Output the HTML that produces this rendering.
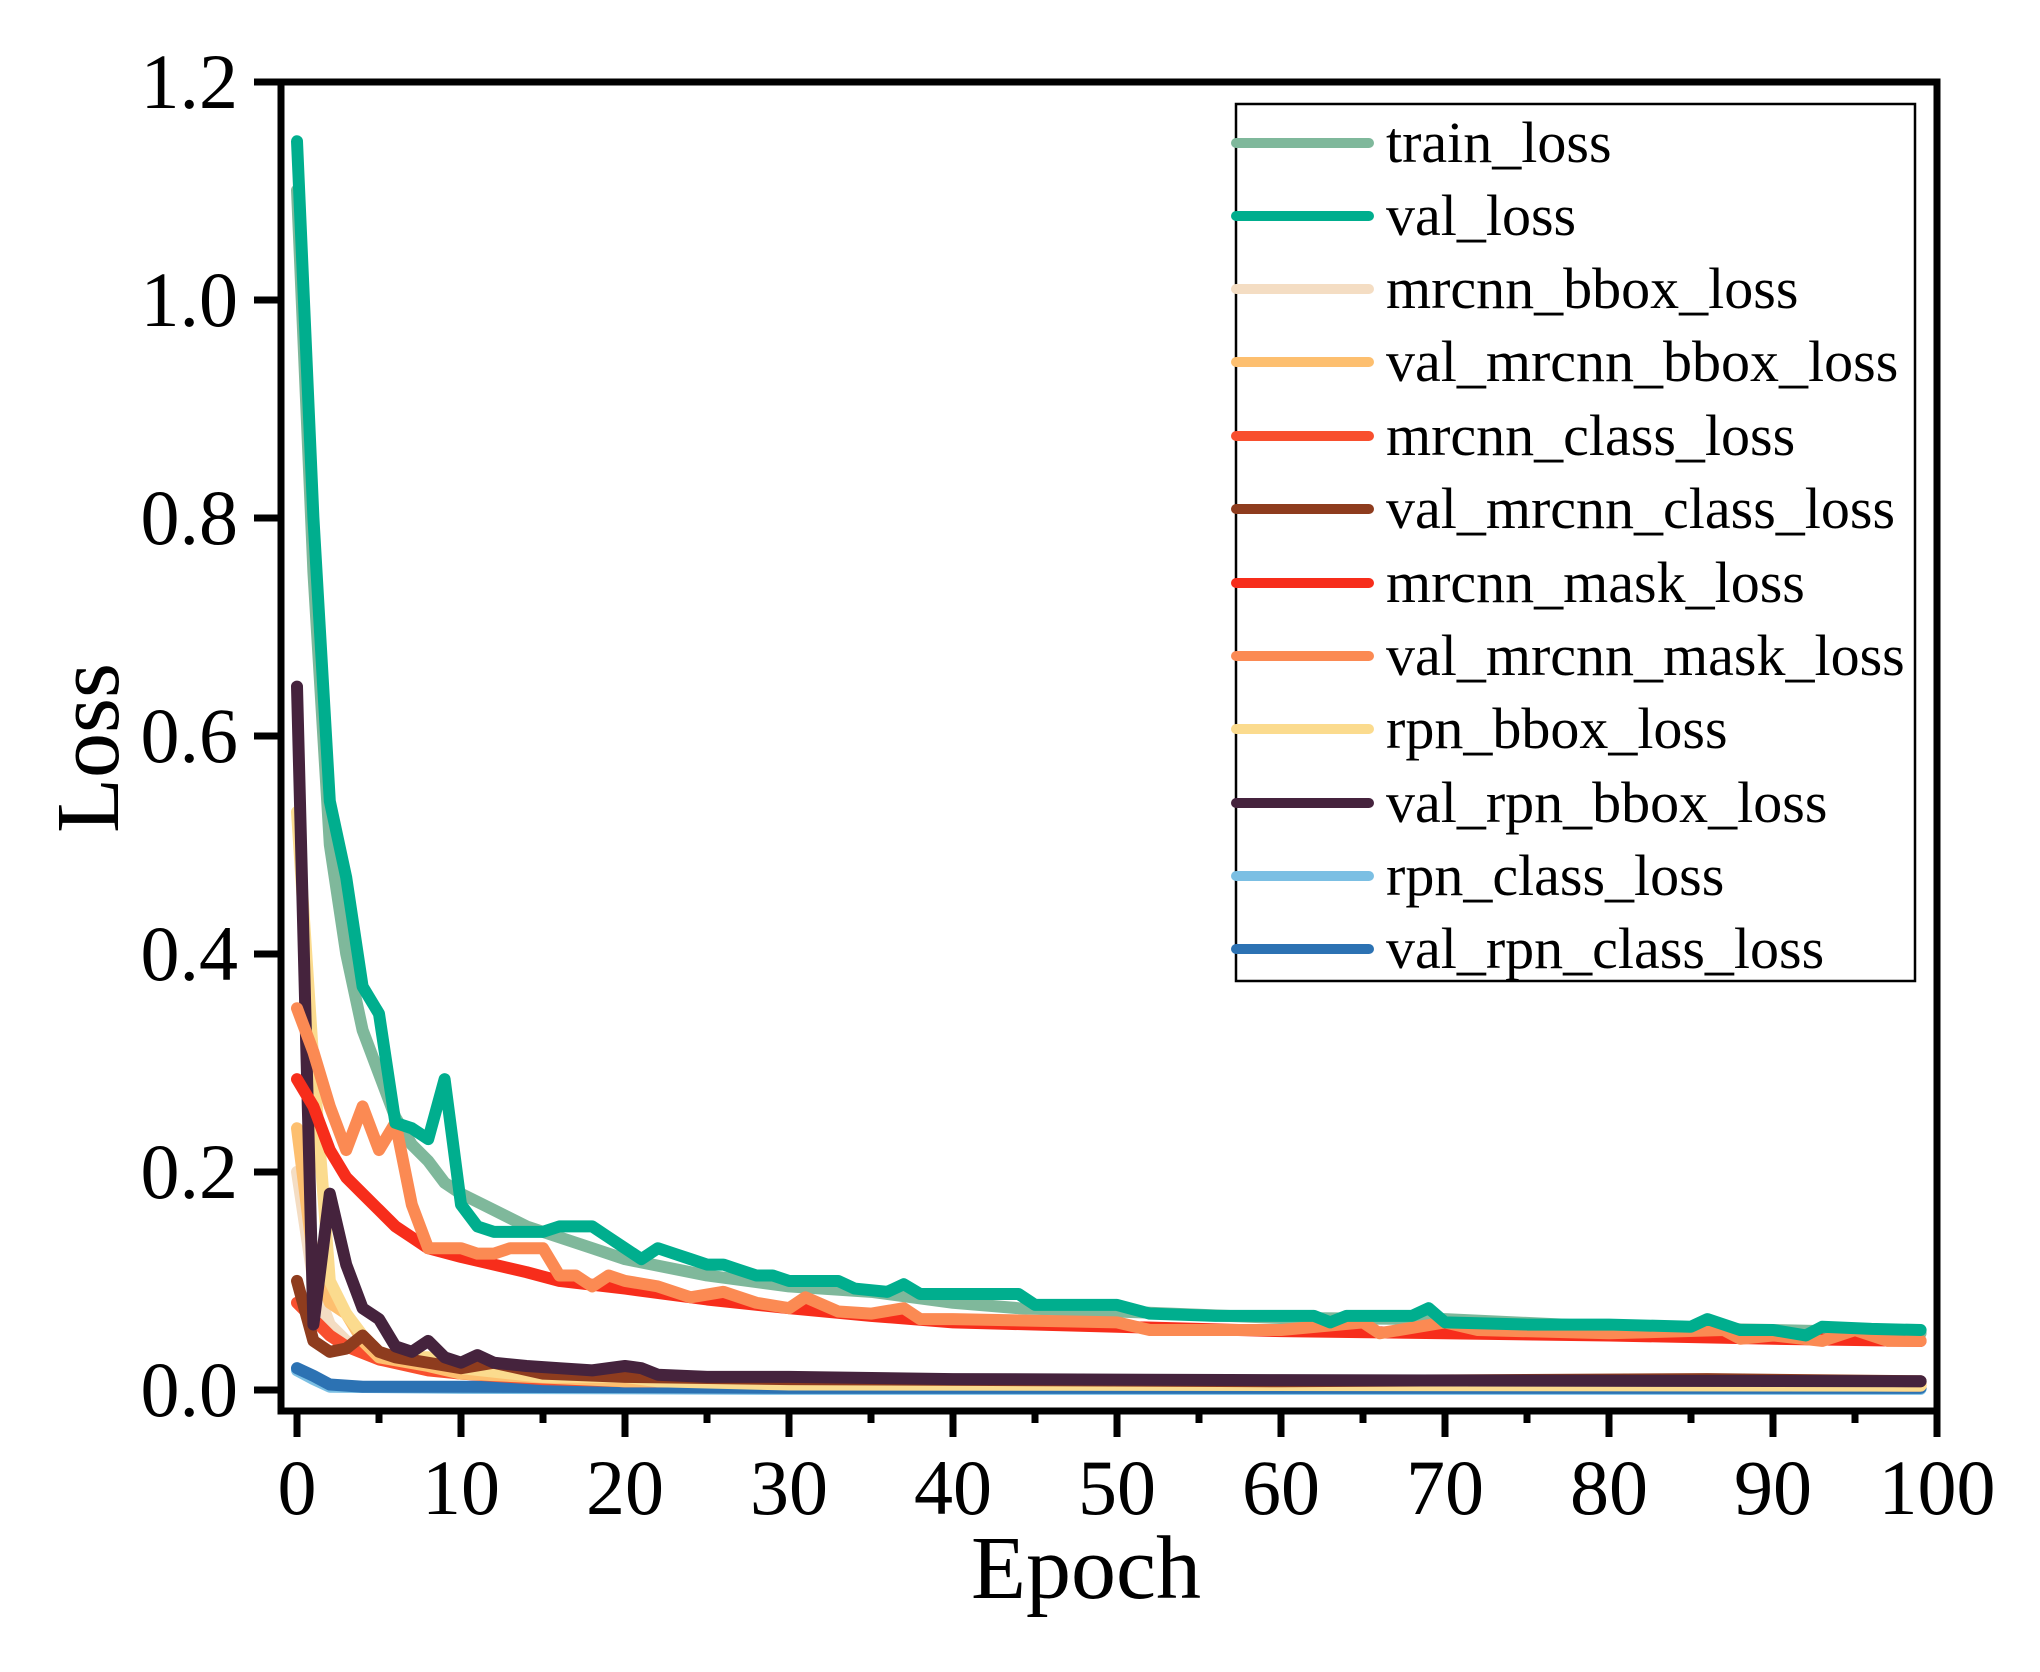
<!DOCTYPE html>
<html><head><meta charset="utf-8"><style>
html,body{margin:0;padding:0;background:#fff}
svg{display:block}
text{font-family:"Liberation Serif",serif;fill:#000}
</style></head><body>
<svg width="2040" height="1672" viewBox="0 0 2040 1672" xmlns="http://www.w3.org/2000/svg">
<g fill="none" stroke-linejoin="round" stroke-linecap="round" transform="translate(297,1390) scale(16.4,-1090.6)">
<polyline vector-effect="non-scaling-stroke" stroke="#7BBFE3" stroke-width="12" points="0,0.018 1,0.01 2,0.003 10,0.002 30,0.001 99,0.001"/>
<polyline vector-effect="non-scaling-stroke" stroke="#2C72B3" stroke-width="12" points="0,0.02 1,0.013 2,0.005 4,0.003 10,0.003 30,0.002 99,0.002"/>
<polyline vector-effect="non-scaling-stroke" stroke="#F4DDC3" stroke-width="12" points="0,0.2 1,0.1 2,0.06 3,0.045 5,0.03 10,0.015 20,0.008 99,0.004"/>
<polyline vector-effect="non-scaling-stroke" stroke="#F84F2E" stroke-width="12" points="0,0.08 1,0.065 2,0.05 3,0.04 5,0.028 8,0.018 10,0.015 15,0.01 20,0.008 99,0.004"/>
<polyline vector-effect="non-scaling-stroke" stroke="#FDBF6F" stroke-width="12" points="0,0.24 1,0.12 2,0.08 3,0.07 4,0.045 5,0.03 8,0.022 10,0.015 20,0.008 99,0.006"/>
<polyline vector-effect="non-scaling-stroke" stroke="#FBDB8E" stroke-width="12" points="0,0.53 1,0.3 2,0.1 3,0.07 4,0.05 5,0.035 6,0.03 8,0.03 10,0.02 15,0.012 20,0.012 22,0.008 30,0.005 99,0.004"/>
<polyline vector-effect="non-scaling-stroke" stroke="#8E3C1E" stroke-width="12" points="0,0.1 1,0.045 2,0.035 3,0.038 4,0.05 5,0.035 6,0.03 8,0.025 10,0.02 12,0.025 15,0.015 20,0.012 30,0.01 60,0.008 86,0.01 99,0.008"/>
<polyline vector-effect="non-scaling-stroke" stroke="#45233D" stroke-width="12" points="0,0.645 1,0.06 2,0.18 3,0.115 4,0.075 5,0.065 6,0.04 7,0.035 8,0.045 9,0.03 10,0.025 11,0.032 12,0.025 14,0.022 16,0.02 18,0.018 20,0.022 21,0.02 22,0.014 25,0.012 30,0.012 40,0.01 60,0.009 99,0.008"/>
<polyline vector-effect="non-scaling-stroke" stroke="#7FB89B" stroke-width="12" points="0,1.1 1,0.75 2,0.5 3,0.4 4,0.33 5,0.29 6,0.25 7,0.225 8,0.21 9,0.19 10,0.18 12,0.165 14,0.15 16,0.14 18,0.13 20,0.12 25,0.105 30,0.095 35,0.09 40,0.08 44,0.075 50,0.072 60,0.066 70,0.065 80,0.058 90,0.055 99,0.052"/>
<polyline vector-effect="non-scaling-stroke" stroke="#F72D1B" stroke-width="12" points="0,0.285 1,0.26 2,0.22 3,0.195 4,0.18 5,0.165 6,0.15 7,0.14 8,0.13 10,0.122 12,0.115 14,0.108 16,0.1 20,0.093 25,0.083 30,0.075 35,0.068 40,0.062 50,0.058 60,0.054 70,0.052 80,0.05 90,0.047 99,0.045"/>
<polyline vector-effect="non-scaling-stroke" stroke="#FB8A53" stroke-width="12" points="0,0.35 1,0.31 2,0.26 3,0.22 4,0.26 5,0.22 6,0.245 7,0.17 8,0.13 9,0.13 10,0.13 11,0.125 12,0.125 13,0.13 14,0.13 15,0.13 16,0.105 17,0.105 18,0.095 19,0.105 20,0.1 22,0.095 24,0.085 26,0.09 28,0.08 30,0.075 31,0.085 33,0.072 35,0.07 37,0.075 38,0.065 40,0.065 50,0.062 52,0.055 60,0.055 65,0.062 66,0.052 70,0.062 72,0.055 80,0.052 87,0.055 88,0.047 90,0.05 93,0.045 95,0.055 97,0.045 99,0.045"/>
<polyline vector-effect="non-scaling-stroke" stroke="#00AE8E" stroke-width="12" points="0,1.145 1,0.8 2,0.54 3,0.47 4,0.37 5,0.345 6,0.245 7,0.24 8,0.23 9,0.285 10,0.17 11,0.15 12,0.145 15,0.145 16,0.15 18,0.15 19,0.14 20,0.13 21,0.12 22,0.13 23,0.125 24,0.12 25,0.115 26,0.115 27,0.11 28,0.105 29,0.105 30,0.1 33,0.1 34,0.093 36,0.09 37,0.097 38,0.088 40,0.088 44,0.088 45,0.078 50,0.078 52,0.07 56,0.068 60,0.068 62,0.068 63,0.062 64,0.068 68,0.068 69,0.075 70,0.062 75,0.06 80,0.06 85,0.058 86,0.065 88,0.055 90,0.055 92,0.05 93,0.058 96,0.056 99,0.055"/>
</g>
<rect x="281" y="82" width="1656" height="1329" fill="none" stroke="#000" stroke-width="7"/>
<g stroke="#000" stroke-width="7">
<line x1="254" y1="82" x2="281" y2="82"/><line x1="254" y1="300" x2="281" y2="300"/><line x1="254" y1="518" x2="281" y2="518"/><line x1="254" y1="736" x2="281" y2="736"/><line x1="254" y1="954" x2="281" y2="954"/><line x1="254" y1="1172" x2="281" y2="1172"/><line x1="254" y1="1390" x2="281" y2="1390"/>
<line x1="297" y1="1411" x2="297" y2="1437"/><line x1="379" y1="1411" x2="379" y2="1423"/>
<line x1="461" y1="1411" x2="461" y2="1437"/><line x1="543" y1="1411" x2="543" y2="1423"/>
<line x1="625" y1="1411" x2="625" y2="1437"/><line x1="707" y1="1411" x2="707" y2="1423"/>
<line x1="789" y1="1411" x2="789" y2="1437"/><line x1="871" y1="1411" x2="871" y2="1423"/>
<line x1="953" y1="1411" x2="953" y2="1437"/><line x1="1035" y1="1411" x2="1035" y2="1423"/>
<line x1="1117" y1="1411" x2="1117" y2="1437"/><line x1="1199" y1="1411" x2="1199" y2="1423"/>
<line x1="1281" y1="1411" x2="1281" y2="1437"/><line x1="1363" y1="1411" x2="1363" y2="1423"/>
<line x1="1445" y1="1411" x2="1445" y2="1437"/><line x1="1527" y1="1411" x2="1527" y2="1423"/>
<line x1="1609" y1="1411" x2="1609" y2="1437"/><line x1="1691" y1="1411" x2="1691" y2="1423"/>
<line x1="1773" y1="1411" x2="1773" y2="1437"/><line x1="1855" y1="1411" x2="1855" y2="1423"/>
<line x1="1937" y1="1411" x2="1937" y2="1437"/>
</g>
<g font-size="78" text-anchor="end">
<text x="238" y="108">1.2</text>
<text x="238" y="326">1.0</text>
<text x="238" y="544">0.8</text>
<text x="238" y="762">0.6</text>
<text x="238" y="980">0.4</text>
<text x="238" y="1198">0.2</text>
<text x="238" y="1416">0.0</text>
</g>
<g font-size="78" text-anchor="middle">
<text x="297" y="1514">0</text><text x="461" y="1514">10</text><text x="625" y="1514">20</text><text x="789" y="1514">30</text><text x="953" y="1514">40</text><text x="1117" y="1514">50</text><text x="1281" y="1514">60</text><text x="1445" y="1514">70</text><text x="1609" y="1514">80</text><text x="1773" y="1514">90</text><text x="1937" y="1514">100</text>
</g>
<text x="1086" y="1598" font-size="90" text-anchor="middle">Epoch</text>
<text transform="translate(118,748) rotate(-90)" font-size="90" text-anchor="middle">Loss</text>
<rect x="1236" y="104" width="679" height="877" fill="#fff" stroke="#000" stroke-width="2.5"/>
<g stroke-width="10" stroke-linecap="round">
<line x1="1236" y1="143" x2="1369" y2="143" stroke="#7FB89B"/>
<line x1="1236" y1="216" x2="1369" y2="216" stroke="#00AE8E"/>
<line x1="1236" y1="289" x2="1369" y2="289" stroke="#F4DDC3"/>
<line x1="1236" y1="362" x2="1369" y2="362" stroke="#FDBF6F"/>
<line x1="1236" y1="436" x2="1369" y2="436" stroke="#F84F2E"/>
<line x1="1236" y1="509" x2="1369" y2="509" stroke="#8E3C1E"/>
<line x1="1236" y1="583" x2="1369" y2="583" stroke="#F72D1B"/>
<line x1="1236" y1="656" x2="1369" y2="656" stroke="#FB8A53"/>
<line x1="1236" y1="729" x2="1369" y2="729" stroke="#FBDB8E"/>
<line x1="1236" y1="803" x2="1369" y2="803" stroke="#45233D"/>
<line x1="1236" y1="876" x2="1369" y2="876" stroke="#7BBFE3"/>
<line x1="1236" y1="949" x2="1369" y2="949" stroke="#2C72B3"/>
</g>
<g font-size="58">
<text x="1386" y="162">train_loss</text>
<text x="1386" y="235">val_loss</text>
<text x="1386" y="308">mrcnn_bbox_loss</text>
<text x="1386" y="381">val_mrcnn_bbox_loss</text>
<text x="1386" y="455">mrcnn_class_loss</text>
<text x="1386" y="528">val_mrcnn_class_loss</text>
<text x="1386" y="602">mrcnn_mask_loss</text>
<text x="1386" y="675">val_mrcnn_mask_loss</text>
<text x="1386" y="748">rpn_bbox_loss</text>
<text x="1386" y="822">val_rpn_bbox_loss</text>
<text x="1386" y="895">rpn_class_loss</text>
<text x="1386" y="968">val_rpn_class_loss</text>
</g>
</svg>
</body></html>
